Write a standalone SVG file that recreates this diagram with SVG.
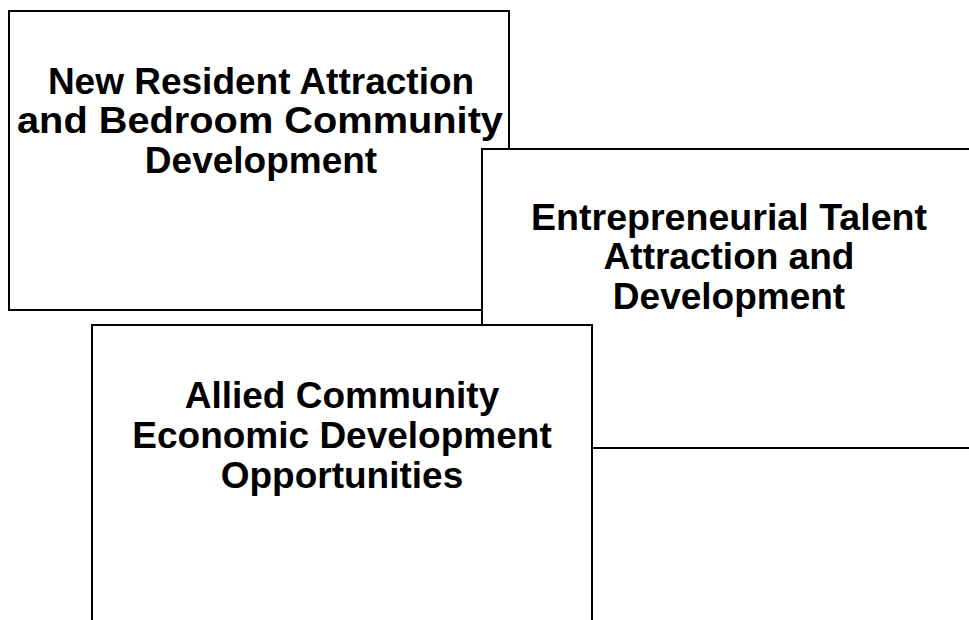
<svg xmlns="http://www.w3.org/2000/svg" width="969" height="620" viewBox="0 0 969 620">
<style>
.box{fill:#ffffff;stroke:#000000;stroke-width:2}
.t{font-family:"Liberation Sans",Arial,sans-serif;font-weight:bold;font-size:37px;fill:#000000;text-anchor:middle}
</style>
<rect width="969" height="620" fill="#ffffff"/>
<g id="node-new-resident">
<rect class="box" x="9" y="11" width="500" height="299"/>
<text class="t" x="261" y="94">New Resident Attraction</text>
<text class="t" x="260" y="133" textLength="486" lengthAdjust="spacingAndGlyphs">and Bedroom Community</text>
<text class="t" x="261" y="173">Development</text>
</g>
<g id="node-entrepreneurial">
<rect class="box" x="482" y="149" width="500" height="299"/>
<text class="t" x="729" y="230" textLength="396" lengthAdjust="spacingAndGlyphs">Entrepreneurial Talent</text>
<text class="t" x="729" y="269">Attraction and</text>
<text class="t" x="729" y="309">Development</text>
</g>
<g id="node-allied">
<rect class="box" x="92" y="325" width="500" height="310"/>
<text class="t" x="342" y="408">Allied Community</text>
<text class="t" x="342" y="448">Economic Development</text>
<text class="t" x="342" y="488">Opportunities</text>
</g>
<g id="connectors"></g>
</svg>
